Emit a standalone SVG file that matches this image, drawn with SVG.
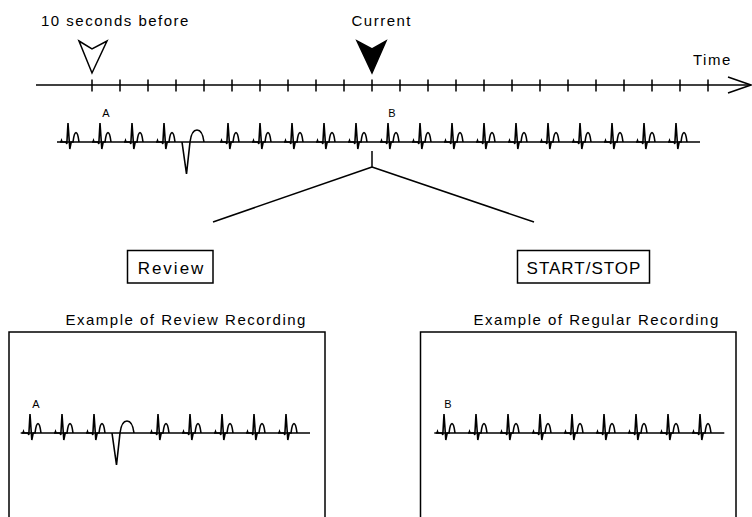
<svg xmlns="http://www.w3.org/2000/svg" xmlns:xlink="http://www.w3.org/1999/xlink" width="752" height="517" viewBox="0 0 752 517">
<style>
.ln{fill:none;stroke:#000;stroke-width:1.5}
.ecg{fill:none;stroke:#000;stroke-width:1.6;stroke-linejoin:miter}
.t15{font-family:"Liberation Sans",Arial,sans-serif;font-size:15px;letter-spacing:1.5px;fill:#000}
.t17{font-family:"Liberation Sans",Arial,sans-serif;font-size:17px;fill:#000}
.sm{font-family:"Liberation Sans",Arial,sans-serif;font-size:11px;fill:#000;text-anchor:middle}
.box{fill:#fff;stroke:#000;stroke-width:1.5}
</style>
<defs>
<path id="beat" class="ecg" d="M-8,0 L-7,0 L-6.5,-1.5 L-6,0 L-2,0 L-1.2,2 L0,-19 L1.8,7 L3.2,0 L5,0 C6.5,-12.5 9.5,-12.5 11,0"/>
<path id="pvc" class="ecg" d="M182,142 L186.5,174 L190,142 C192,126 202,126 204,142"/>
</defs>

<g id="timeline">
<line class="ln" x1="36" y1="85" x2="751" y2="85"/>
<path class="ln" d="M92,79.5V91.5M120,79.5V91.5M148,79.5V91.5M176,79.5V91.5M204,79.5V91.5M232,79.5V91.5M260,79.5V91.5M288,79.5V91.5M316,79.5V91.5M344,79.5V91.5M372,79.5V91.5M400,79.5V91.5M428,79.5V91.5M456,79.5V91.5M484,79.5V91.5M512,79.5V91.5M540,79.5V91.5M568,79.5V91.5M596,79.5V91.5M624,79.5V91.5M652,79.5V91.5M680,79.5V91.5M708,79.5V91.5"/>
<path class="ln" d="M728,77 L751,85 L728,93"/>
<text class="t15" x="693" y="65">Time</text>
</g>

<g id="marker-before">
<polygon points="79,41 92,49 107,41 92,73" fill="#fff" stroke="#000" stroke-width="1.5" stroke-linejoin="miter"/>
<text class="t15" x="41" y="26">10 seconds before</text>
</g>

<g id="marker-current">
<polygon points="357,41 372,49 386,41 372,73" fill="#000" stroke="#000" stroke-width="1.5"/>
<text class="t15" x="351.5" y="26">Current</text>
</g>

<g id="strip">
<line class="ecg" x1="57" y1="142" x2="700" y2="142"/>
<use xlink:href="#beat" x="68" y="142"/>
<use xlink:href="#beat" x="100" y="142"/>
<use xlink:href="#beat" x="132" y="142"/>
<use xlink:href="#beat" x="164" y="142"/>
<use xlink:href="#pvc"/>
<use xlink:href="#beat" x="228" y="142"/>
<use xlink:href="#beat" x="260" y="142"/>
<use xlink:href="#beat" x="292" y="142"/>
<use xlink:href="#beat" x="324" y="142"/>
<use xlink:href="#beat" x="356" y="142"/>
<use xlink:href="#beat" x="388" y="142"/>
<use xlink:href="#beat" x="420" y="142"/>
<use xlink:href="#beat" x="452" y="142"/>
<use xlink:href="#beat" x="484" y="142"/>
<use xlink:href="#beat" x="516" y="142"/>
<use xlink:href="#beat" x="548" y="142"/>
<use xlink:href="#beat" x="580" y="142"/>
<use xlink:href="#beat" x="612" y="142"/>
<use xlink:href="#beat" x="644" y="142"/>
<use xlink:href="#beat" x="676" y="142"/>
<text class="sm" x="106" y="117">A</text>
<text class="sm" x="392" y="117">B</text>
</g>

<g id="connectors">
<line class="ln" x1="372" y1="151" x2="372" y2="167"/>
<line class="ln" x1="372" y1="167" x2="213" y2="222"/>
<line class="ln" x1="372" y1="167" x2="534" y2="222"/>
</g>

<g id="review-button">
<rect class="box" x="127.5" y="250.5" width="85.5" height="32.5"/>
<text class="t17" x="171.5" y="274" text-anchor="middle" letter-spacing="2">Review</text>
</g>

<g id="startstop-button">
<rect class="box" x="517.5" y="250.5" width="132" height="32.5"/>
<text class="t17" x="584" y="274" text-anchor="middle" letter-spacing="1">START/STOP</text>
</g>

<g id="review-example">
<text class="t15" x="65.5" y="325" letter-spacing="1.75">Example of Review Recording</text>
<rect class="box" x="9" y="332" width="316" height="200"/>
<g transform="translate(-70,291)">
<line class="ecg" x1="90.7" y1="142" x2="380" y2="142"/>
<use xlink:href="#beat" x="100" y="142"/>
<use xlink:href="#beat" x="132" y="142"/>
<use xlink:href="#beat" x="164" y="142"/>
<use xlink:href="#pvc"/>
<use xlink:href="#beat" x="228" y="142"/>
<use xlink:href="#beat" x="260" y="142"/>
<use xlink:href="#beat" x="292" y="142"/>
<use xlink:href="#beat" x="324" y="142"/>
<use xlink:href="#beat" x="356" y="142"/>
<text class="sm" x="106" y="117">A</text>
</g>
</g>

<g id="regular-example">
<text class="t15" x="473.5" y="325" letter-spacing="1.6">Example of Regular Recording</text>
<rect class="box" x="420.5" y="332" width="315.5" height="200"/>
<g transform="translate(56,291)">
<line class="ecg" x1="378.3" y1="142" x2="668.3" y2="142"/>
<use xlink:href="#beat" x="388" y="142"/>
<use xlink:href="#beat" x="420" y="142"/>
<use xlink:href="#beat" x="452" y="142"/>
<use xlink:href="#beat" x="484" y="142"/>
<use xlink:href="#beat" x="516" y="142"/>
<use xlink:href="#beat" x="548" y="142"/>
<use xlink:href="#beat" x="580" y="142"/>
<use xlink:href="#beat" x="612" y="142"/>
<use xlink:href="#beat" x="644" y="142"/>
<text class="sm" x="392" y="117">B</text>
</g>
</g>
</svg>
